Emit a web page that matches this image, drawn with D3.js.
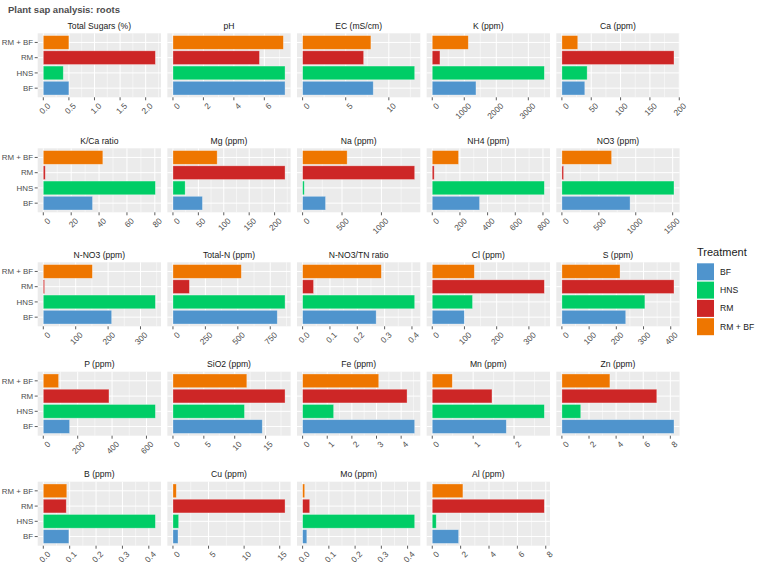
<!DOCTYPE html>
<html>
<head>
<meta charset="utf-8">
<script src="https://cdn.jsdelivr.net/npm/d3@7"></script>
<style>
  body { margin: 0; background: #fff; }
  text { font-family: "Liberation Sans", Arial, sans-serif; }
</style>
</head>
<body>
<div id="chart"></div>
<script>
// facet titles, in facet order
const panelTitles = ["Total Sugars (%)", "pH", "EC (mS/cm)", "K (ppm)", "Ca (ppm)",
  "K/Ca ratio", "Mg (ppm)", "Na (ppm)", "NH4 (ppm)", "NO3 (ppm)",
  "N-NO3 (ppm)", "Total-N (ppm)", "N-NO3/TN ratio", "Cl (ppm)", "S (ppm)",
  "P (ppm)", "SiO2 (ppm)", "Fe (ppm)", "Mn (ppm)", "Zn (ppm)",
  "B (ppm)", "Cu (ppm)", "Mo (ppm)", "Al (ppm)"];

const treatments = ["BF", "HNS", "RM", "RM + BF"];
const treatColors = ["#4F94CD", "#00CD66", "#CD2626", "#EE7600"];

// values per treatment, same order as panelTitles
const bfValues   = [0.5, 7.36, 8.19, 1365, 39, 35.3, 58, 291, 342, 923, 211, 804, 0.269, 99.5, 234.6, 153, 14.46, 4.55, 1.81, 8.27, 0.097, 0.71, 0.016, 1.86];
const hnsValues  = [0.39, 7.36, 13.0, 3500, 43, 80.4, 24, 21, 810, 1518, 346, 864, 0.41, 125, 305, 652, 11.58, 1.26, 2.74, 1.39, 0.425, 0.8, 0.427, 0.28];
const rmValues   = [2.19, 5.68, 7.08, 240, 191, 1.4, 220.6, 1422, 14, 23, 4, 127, 0.040, 348, 412, 382, 18.15, 4.24, 1.46, 7.0, 0.087, 15.75, 0.027, 7.9];
const rmbfValues = [0.5, 7.25, 7.92, 1125, 27, 42.7, 87, 565, 190, 673, 151.5, 527, 0.288, 130.6, 213.6, 89, 11.96, 3.09, 0.49, 3.54, 0.089, 0.47, 0.008, 2.16];

// x-axis breaks per panel
const panelTicks = [
  [0, 0.5, 1, 1.5, 2], [0, 2, 4, 6], [0, 5, 10], [0, 1000, 2000, 3000], [0, 50, 100, 150, 200],
  [0, 20, 40, 60, 80], [0, 50, 100, 150, 200], [0, 500, 1000], [0, 200, 400, 600, 800], [0, 500, 1000, 1500],
  [0, 100, 200, 300], [0, 250, 500, 750], [0, 0.1, 0.2, 0.3, 0.4], [0, 100, 200, 300], [0, 100, 200, 300, 400],
  [0, 200, 400, 600], [0, 5, 10, 15], [0, 1, 2, 3, 4], [0, 1, 2], [0, 2, 4, 6, 8],
  [0, 0.1, 0.2, 0.3, 0.4], [0, 5, 10, 15], [0, 0.1, 0.2, 0.3, 0.4], [0, 2, 4, 6, 8]
];

const W = 758, H = 568;
const colX0 = 37.7, colPitch = 129.65, panelW = 123.3, panelH = 64;
const rowTops = [33.3, 148.3, 262.3, 371.7, 481.7];

const allValues = [bfValues, hnsValues, rmValues, rmbfValues];

const svg = d3.select("#chart").append("svg")
  .attr("width", W).attr("height", H);

svg.append("text")
  .attr("x", 8).attr("y", 13)
  .attr("font-size", "9.5px").attr("font-weight", "bold")
  .attr("fill", "#4D4D4D")
  .text("Plant sap analysis: roots");

// discrete axis, BF at the bottom; 0.6 expansion each side like ggplot
let y = d3.scaleLinear().domain([0.4, 4.6]).range([panelH, 0]);

panelTitles.forEach(function(title, i) {
  const col = i % 5, row = Math.floor(i / 5);
  const px = colX0 + col * colPitch, py = rowTops[row];
  const vals = allValues.map(a => a[i]);
  const maxV = d3.max(vals);
  const x = d3.scaleLinear().domain([-0.05 * maxV, 1.05 * maxV]).range([0, panelW]);
  const ticks = panelTicks[i];
  const step = ticks[1] - ticks[0];
  const decimals = ticks.some(t => Math.abs(t - Math.round(t)) > 1e-9);
  const fmt = decimals ? d3.format(".1f") : d3.format("d");

  const g = svg.append("g").attr("transform", "translate(" + px + "," + py + ")");

  g.append("rect").attr("width", panelW).attr("height", panelH).attr("fill", "#EBEBEB");

  // minor grid
  const minor = [];
  ticks.forEach(t => { minor.push(t - step / 2); minor.push(t + step / 2); });
  const dom = x.domain();
  Array.from(new Set(minor.map(m => +m.toFixed(6))))
    .filter(m => m > dom[0] && m < dom[1])
    .forEach(m => {
      g.append("line").attr("x1", x(m)).attr("x2", x(m)).attr("y1", 0).attr("y2", panelH)
        .attr("stroke", "#fff").attr("stroke-width", 0.5);
    });
  ticks.forEach(t => {
    g.append("line").attr("x1", x(t)).attr("x2", x(t)).attr("y1", 0).attr("y2", panelH)
      .attr("stroke", "#fff").attr("stroke-width", 1);
  });
  treatments.forEach((tr, k) => {
    g.append("line").attr("x1", 0).attr("x2", panelW).attr("y1", y(k + 1)).attr("y2", y(k + 1))
      .attr("stroke", "#fff").attr("stroke-width", 1);
  });

  // bars
  const unit = y(0) - y(1);
  g.selectAll(".bar")
    .data(treatments)
    .enter().append("rect")
    .attr("class", "bar")
    .attr("x", x(0))
    .attr("y", (d, k) => y(k + 1) - 0.45 * unit)
    .attr("width", (d, k) => x(vals[k]) - x(0))
    .attr("height", 0.9 * unit)
    .attr("fill", (d, k) => treatColors[k])
    .attr("stroke", "#fff").attr("stroke-opacity", 0.45).attr("stroke-width", 0.7);

  // strip title
  g.append("text")
    .attr("x", panelW / 2).attr("y", -4.5)
    .attr("text-anchor", "middle")
    .attr("font-size", "8.6px").attr("fill", "#1A1A1A")
    .text(title);

  // x axis ticks + rotated labels
  ticks.forEach(t => {
    g.append("line").attr("x1", x(t)).attr("x2", x(t)).attr("y1", panelH).attr("y2", panelH + 3)
      .attr("stroke", "#333").attr("stroke-width", 0.8);
    g.append("text")
      .attr("transform", "translate(" + (x(t) + 3.5) + "," + (panelH + 5) + ") rotate(-45)")
      .attr("text-anchor", "end")
      .attr("dy", "0.7em")
      .attr("font-size", "8.3px").attr("fill", "#4D4D4D")
      .text(fmt(t));
  });

  // y axis only on first column
  if (col === 0) {
    treatments.forEach((tr, k) => {
      g.append("line").attr("x1", -3).attr("x2", 0).attr("y1", y(k + 1)).attr("y2", y(k + 1))
        .attr("stroke", "#333").attr("stroke-width", 0.8);
      g.append("text")
        .attr("x", -4.5).attr("y", y(k + 1)).attr("dy", "0.35em")
        .attr("text-anchor", "end")
        .attr("font-size", "7.9px").attr("fill", "#4D4D4D")
        .text(tr);
    });
  }
});

// legend
const legend = svg.append("g").attr("transform", "translate(697,0)");
legend.append("text").attr("x", 0).attr("y", 256)
  .attr("font-size", "11px").attr("fill", "#1A1A1A").text("Treatment");
treatments.forEach((tr, k) => {
  legend.append("rect").attr("x", 0).attr("y", 263.3 + k * 18.3)
    .attr("width", 17).attr("height", 17).attr("fill", treatColors[k]);
  legend.append("text").attr("x", 23).attr("y", 263.3 + k * 18.3 + 8.5).attr("dy", "0.35em")
    .attr("font-size", "8.6px").attr("fill", "#1A1A1A").text(tr);
});
</script>
</body>
</html>
